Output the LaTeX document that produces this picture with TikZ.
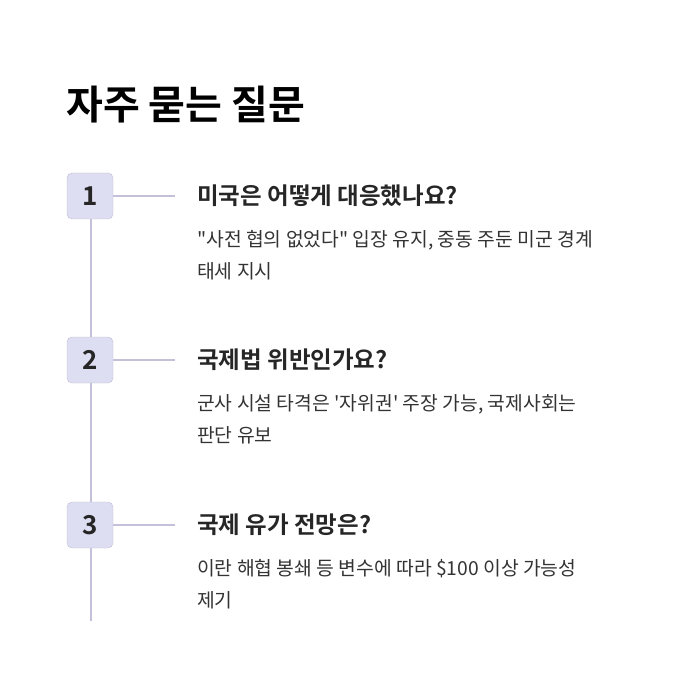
\documentclass[tikz,border=0pt]{standalone}
\usepackage{fontspec}
\newfontfamily\kr{Noto Sans CJK KR}
\newfontfamily\krb{Noto Sans CJK KR Bold}
\definecolor{boxfill}{RGB}{222,222,242}
\definecolor{boxline}{RGB}{190,188,215}
\definecolor{linec}{RGB}{196,192,218}
\begin{document}
\begin{tikzpicture}[x=1pt,y=-1pt,
 numbox/.style={draw=boxline, fill=boxfill, rounded corners=5pt, minimum width=46pt, minimum height=46pt, font=\krb\fontsize{26}{26}\selectfont, text=black!85},
 conn/.style={draw=linec, line width=2pt},
 head/.style={anchor=west, font=\krb\fontsize{23.5}{26}\selectfont, text=black!85, inner sep=0},
 body/.style={anchor=north west, font=\kr\fontsize{19.3}{32}\selectfont, text=black!80, inner sep=0, align=left}]
\useasboundingbox (0,0) rectangle (700,700);
\node[anchor=west, font=\krb\fontsize{40}{42}\selectfont, inner sep=0] (title) at (66,105) {자주 묻는 질문};
\coordinate (bot) at (91,621);
\draw[conn] (91,196) -- (bot);
\foreach \y/\n/\h/\a/\b in {196/1/{미국은 어떻게 대응했나요?}/{"사전 협의 없었다" 입장 유지, 중동 주둔 미군 경계}/{태세 지시}, 360/2/{국제법 위반인가요?}/{군사 시설 타격은 '자위권' 주장 가능, 국제사회는}/{판단 유보}, 525/3/{국제 유가 전망은?}/{이란 해협 봉쇄 등 변수에 따라 \$100 이상 가능성}/{제기}}{
 \node[numbox] (n\n) at (90,\y) {\n};
 \node[head] (h\n) at (197,\y) {\h};
 \coordinate (c\n) at (175,\y);
 \draw[conn] (n\n) -- (c\n);
 \node[body] (b\n) at (197,\y+34) {\a\\\b};
}
\end{tikzpicture}
\end{document}
